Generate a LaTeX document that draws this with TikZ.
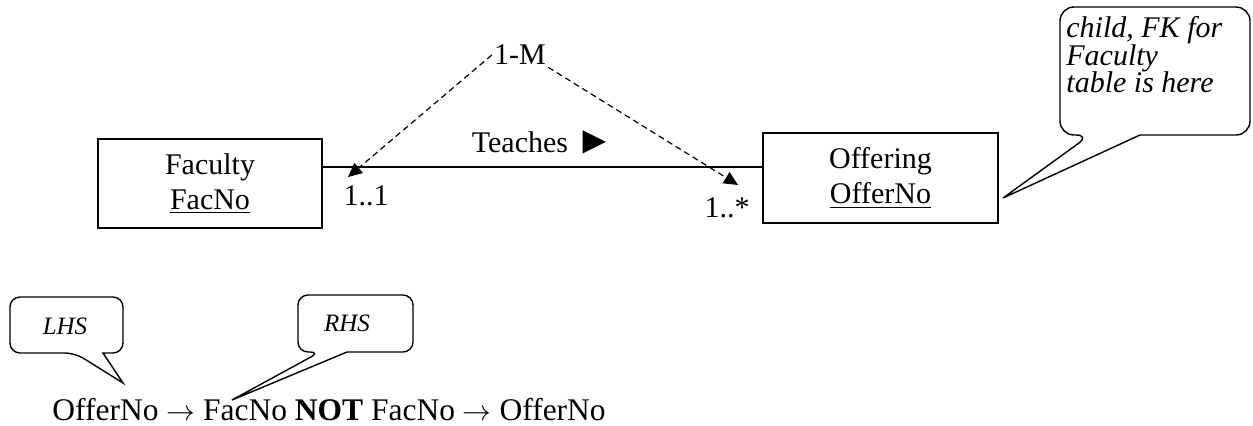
\documentclass[tikz,border=0pt]{standalone}
\usepackage{fontspec}
\setmainfont{Liberation Serif}
\tikzset{
	entity/.style={draw,line width=0.8pt,align=center,inner sep=0pt},
	lbl/.style={inner sep=0pt,font=\fontsize{15}{17.5}\selectfont},
	note/.style={inner sep=0pt,font=\fontsize{12.5}{15}\selectfont\itshape},
	callout/.style={draw,line width=0.7pt},
	link/.style={dashed,dash pattern=on 3pt off 2pt,line width=0.6pt,-{Triangle[length=7pt,width=6.5pt]}}
}
\usetikzlibrary{arrows.meta}
\begin{document}
\begin{tikzpicture}[x=0.5pt,y=-0.5pt]
	\useasboundingbox(0,0)rectangle(1253,425);
	% the two tables
	\node[entity,lbl,minimum width=112pt,minimum height=44.5pt](fac)at(210,183.5){Faculty\\\underline{FacNo}};
	\node[entity,lbl,minimum width=117.5pt,minimum height=45pt](off)at(880.5,178){Offering\\\underline{OfferNo}};
	\draw[line width=0.7pt](fac.east|-0,167)--(off.west|-0,167);
	\node[lbl](teach)at(543,142){Teaches \raisebox{-0.3pt}{\scalebox{1.3}{►}}};
	\node[lbl](one)at(366,196){1..1};
	\node[lbl](many)at(727,208){1..*};
	% 1-M with its two arrows
	\node[lbl,inner sep=1pt](onem)at(520,55){1-M};
	\coordinate(onetip)at(348,177);
	\coordinate(manytip)at(738,185);
	\draw[link](onem.west)--(onetip);
	\draw[link](onem.south east)--(manytip);
	% callouts
	\draw[callout,rounded corners=7pt](1140,135)--(1250,135)--(1250,7)--(1060,7)--(1060,135)--(1090,135)[sharp corners]--(1003,198)--cycle;
	\node[lbl,font=\fontsize{15}{13.75}\selectfont\itshape,align=left,anchor=north west](fk)at(1066,16){child, FK for\\Faculty\\table is here};
	\draw[callout,rounded corners=5pt](103,353)--(123,353)--(123,297)--(10,297)--(10,353)--(75,353)[sharp corners]--(123,383)--cycle;
	\node[note](lhs)at(65,326){LHS};
	\draw[callout,rounded corners=5pt](347,352)--(413,352)--(413,295)--(298,295)--(298,352)--(320,352)[sharp corners]--(232,400)--cycle;
	\node[note](rhs)at(347,323){RHS};
	% the dependency
	\node[inner sep=0pt,anchor=base west,font=\fontsize{15.75}{18}\selectfont](fd)at(52,420){OfferNo $\rightarrow$ FacNo \textbf{NOT} FacNo $\rightarrow$ OfferNo};
\end{tikzpicture}
\end{document}
